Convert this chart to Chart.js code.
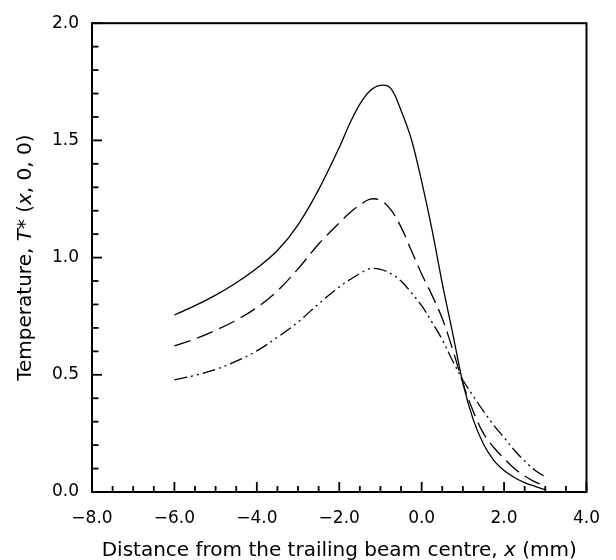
<!DOCTYPE html>
<html>
<head>
<meta charset="utf-8">
<script src="https://cdn.jsdelivr.net/npm/chart.js@4.4.1/dist/chart.umd.min.js"></script>
<style>
  html, body { margin: 0; padding: 0; background: #fff; }
  #wrap { width: 616px; height: 560px; position: relative; }
</style>
</head>
<body>
<div id="wrap"><canvas id="c" width="616" height="560"></canvas></div>
<script>
// Data
const xPositions = [-6, -5.5, -5, -4.5, -4, -3.5, -3, -2.5, -2, -1.75, -1.5, -1.25, -1, -0.75, -0.5, -0.25, 0, 0.25, 0.5, 0.75, 1, 1.25, 1.5, 1.75, 2, 2.25, 2.5, 2.75, 3];
const solidSeries = [0.755, 0.795, 0.84, 0.893, 0.955, 1.03, 1.14, 1.29, 1.47, 1.57, 1.655, 1.712, 1.735, 1.722, 1.628, 1.505, 1.325, 1.12, 0.89, 0.68, 0.465, 0.31, 0.205, 0.135, 0.092, 0.062, 0.04, 0.024, 0.01];
const dashedSeries = [0.623, 0.653, 0.69, 0.733, 0.787, 0.858, 0.952, 1.058, 1.148, 1.19, 1.225, 1.249, 1.245, 1.205, 1.13, 1.03, 0.93, 0.84, 0.74, 0.61, 0.465, 0.345, 0.25, 0.19, 0.143, 0.1, 0.068, 0.043, 0.025];
const dashDotSeries = [0.478, 0.498, 0.523, 0.558, 0.602, 0.66, 0.725, 0.803, 0.875, 0.905, 0.932, 0.953, 0.95, 0.932, 0.9, 0.85, 0.795, 0.725, 0.65, 0.56, 0.478, 0.41, 0.345, 0.285, 0.232, 0.178, 0.132, 0.093, 0.065];
const xTickLabels = ["\u22128.0", "\u22126.0", "\u22124.0", "\u22122.0", "0.0", "2.0", "4.0"];
const yTickLabels = ["0.0", "0.5", "1.0", "1.5", "2.0"];
const xTitleParts = [["Distance from the trailing beam centre, ", false], ["x", true], [" (mm)", false]];
const yTitleParts = [["Temperature, ", false], ["T", true], ["* (", false], ["x", true], [", 0, 0)", false]];

const FONT = "'DejaVu Sans', sans-serif";

function pts(ys) { return xPositions.map((x, i) => ({ x: x, y: ys[i] })); }

const axesDecor = {
  id: 'axesDecor',
  afterDraw(chart) {
    const ctx = chart.ctx;
    const a = chart.chartArea;
    const xs = chart.scales.x, ys = chart.scales.y;
    ctx.save();
    ctx.strokeStyle = '#000';
    ctx.lineWidth = 2;
    ctx.strokeRect(a.left, a.top, a.right - a.left, a.bottom - a.top);
    ctx.lineWidth = 1.8;
    xs.ticks.forEach(t => {
      const v = t.value;
      const major = Math.abs(Math.round(v) - v) < 1e-6 && Math.round(v) % 2 === 0;
      const px = xs.getPixelForValue(v);
      const len = major ? 10 : 6;
      ctx.beginPath(); ctx.moveTo(px, a.bottom); ctx.lineTo(px, a.bottom - len); ctx.stroke();
    });
    ys.ticks.forEach(t => {
      const v = t.value;
      const major = Math.round(v * 10) % 5 === 0;
      const py = ys.getPixelForValue(v);
      const len = major ? 10 : 6.5;
      ctx.beginPath(); ctx.moveTo(a.left, py); ctx.lineTo(a.left + len, py); ctx.stroke();
    });
    // Axis titles with italic fragments
    ctx.fillStyle = '#000';
    ctx.textBaseline = 'alphabetic';
    function drawParts(parts, cx, y, size) {
      let w = 0;
      parts.forEach(p => { ctx.font = (p[1] ? 'italic ' : '') + size + 'px ' + FONT; w += ctx.measureText(p[0]).width; });
      let x = cx - w / 2;
      parts.forEach(p => {
        ctx.font = (p[1] ? 'italic ' : '') + size + 'px ' + FONT;
        ctx.textAlign = 'left';
        ctx.fillText(p[0], x, y);
        x += ctx.measureText(p[0]).width;
      });
    }
    drawParts(xTitleParts, (a.left + a.right) / 2, 556, 20);
    ctx.save();
    ctx.translate(31, (a.top + a.bottom) / 2);
    ctx.rotate(-Math.PI / 2);
    drawParts(yTitleParts, 0, 0, 20);
    ctx.restore();
    ctx.restore();
  }
};

new Chart(document.getElementById('c'), {
  type: 'line',
  data: {
    datasets: [
      { data: pts(solidSeries), borderColor: '#000', borderWidth: 1.3, pointRadius: 0, fill: false, tension: 0.35 },
      { data: pts(dashedSeries), borderColor: '#000', borderWidth: 1.3, borderDash: [17, 7], pointRadius: 0, fill: false, tension: 0.35 },
      { data: pts(dashDotSeries), borderColor: '#000', borderWidth: 1.3, borderDash: [13, 4, 2, 4, 2, 4], pointRadius: 0, fill: false, tension: 0.35 }
    ]
  },
  options: {
    responsive: false,
    animation: false,
    devicePixelRatio: 1,
    layout: { padding: { left: 0, right: 29, top: 20, bottom: 0 } },
    plugins: { legend: { display: false }, tooltip: { enabled: false }, title: { display: false } },
    scales: {
      x: {
        type: 'linear', min: -8, max: 4,
        grid: { display: false, drawTicks: false },
        border: { display: false },
        ticks: {
          stepSize: 0.5, autoSkip: false, maxRotation: 0, padding: 16, color: '#000',
          font: { family: FONT, size: 17 },
          callback: (v) => {
            const r = Math.round(v);
            if (Math.abs(r - v) > 1e-6 || r % 2 !== 0) return '';
            return xTickLabels[(r + 8) / 2];
          }
        },
        afterFit: (s) => { s.height = 68; }
      },
      y: {
        type: 'linear', min: 0, max: 2,
        grid: { display: false, drawTicks: false },
        border: { display: false },
        ticks: {
          stepSize: 0.1, autoSkip: false, padding: 13, color: '#000',
          font: { family: FONT, size: 17 },
          callback: (v) => {
            const k = Math.round(v * 10);
            if (k % 5 !== 0) return '';
            return yTickLabels[k / 5];
          }
        },
        afterFit: (s) => { s.width = 92; }
      }
    }
  },
  plugins: [axesDecor]
});
</script>
</body>
</html>
